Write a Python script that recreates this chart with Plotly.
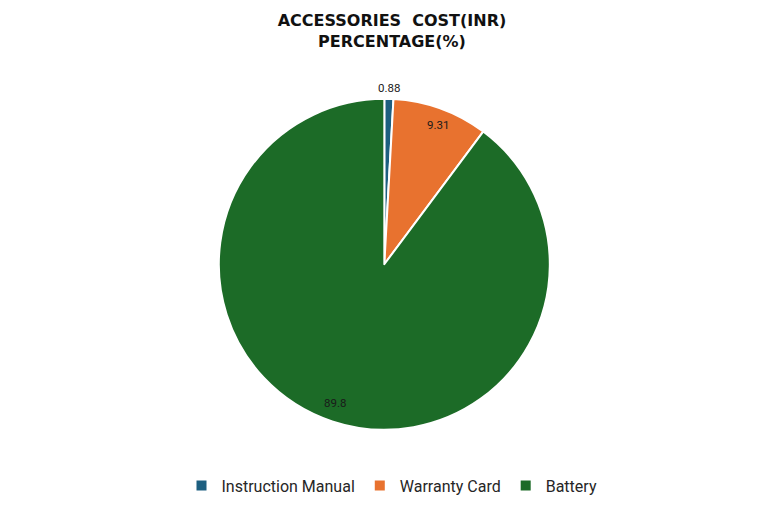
import math
import plotly.graph_objects as go

categories = ["Instruction Manual", "Warranty Card", "Battery"]
values = [0.88, 9.31, 89.8]
labels_text = ["0.88", "9.31", "89.8"]
colors = ["#1d5f80", "#e8722f", "#1c6b27"]
label_radius = [1.12, 0.95, 0.94]  # fraction of pie radius for each data label

dom_x = [0.274, 0.706]
dom_y = [0.173, 0.822]
W, H = 768, 510

fig = go.Figure(go.Pie(
    labels=categories,
    values=values,
    textinfo="none",
    sort=False,
    direction="clockwise",
    rotation=0,
    marker=dict(colors=colors, line=dict(color="white", width=2)),
    domain=dict(x=dom_x, y=dom_y),
    showlegend=True,
))

# data labels placed along each slice's mid-angle
total = sum(values)
cx = (dom_x[0] + dom_x[1]) / 2
cy = (dom_y[0] + dom_y[1]) / 2
r_px = min((dom_x[1] - dom_x[0]) * W, (dom_y[1] - dom_y[0]) * H) / 2
cum = 0.0
for v, t, rf in zip(values, labels_text, label_radius):
    mid = (cum + v / 2) / total * 2 * math.pi
    cum += v
    rr = rf * r_px
    fig.add_annotation(
        x=cx + rr * math.sin(mid) / W,
        y=cy + rr * math.cos(mid) / H,
        xref="paper", yref="paper",
        text=t, showarrow=False,
        font=dict(family="Roboto, Arial", size=11.5, color="#1a1a1a"),
    )

fig.update_layout(
    width=W, height=H,
    paper_bgcolor="white",
    plot_bgcolor="white",
    margin=dict(l=0, r=0, t=0, b=0),
    title=dict(
        text="ACCESSORIES  COST(INR)<br>PERCENTAGE(%)",
        x=0.5, xanchor="center",
        y=0.964, yanchor="top",
        font=dict(family="DejaVu Sans, Roboto", size=16, color="#111111", weight="bold"),
    ),
    legend=dict(
        orientation="h",
        x=0.5, xanchor="center",
        y=0.03, yanchor="bottom",
        font=dict(family="Roboto, Arial", size=16, color="#262626"),
        itemsizing="constant",
    ),
)

fig.write_html("out.html")
